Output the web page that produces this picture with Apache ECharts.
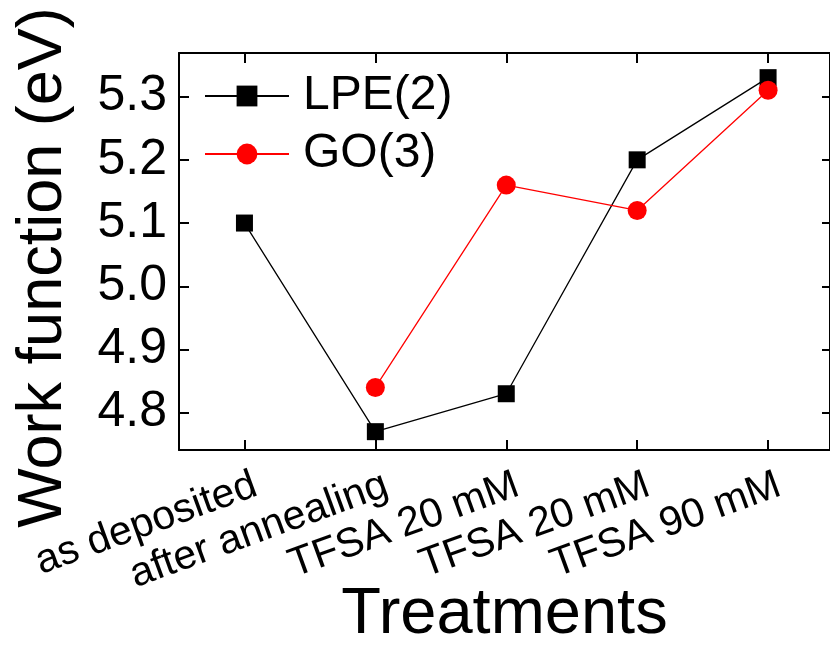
<!DOCTYPE html>
<html>
<head>
<meta charset="utf-8">
<script src="https://cdn.jsdelivr.net/npm/echarts@6/dist/echarts.min.js"></script>
<style>html,body{margin:0;padding:0;background:#fff}#c{width:830px;height:646px}</style>
</head>
<body>
<div id="c"></div>
<script>
const categories = ['as deposited', 'after annealing', 'TFSA 20 mM', 'TFSA 20 mM', 'TFSA 90 mM'];
const lpeValues = [5.10, 4.77, 4.83, 5.20, 5.33];
const goValues = [null, 4.84, 5.16, 5.12, 5.31];
const yTickValues = [4.8, 4.9, 5.0, 5.1, 5.2, 5.3];
const seriesNames = ['LPE(2)', 'GO(3)'];

const catPositions = categories.map((c, i) => i);
const FONT = 'Liberation Sans, Arial, sans-serif';

const chart = echarts.init(document.getElementById('c'), null, {renderer: 'canvas'});
const axisLine = {onZero: false, lineStyle: {color: '#000', width: 2}};
chart.setOption({
  animation: false,
  backgroundColor: '#fff',
  grid: {left: 179, top: 53, right: 0, bottom: 196, containLabel: false, outerBoundsMode: 'none'},
  legend: {
    left: 199, top: 67, orient: 'vertical',
    itemWidth: 84, itemHeight: 26, itemGap: 10,
    textStyle: {fontFamily: FONT, fontSize: 48, color: '#000', lineHeight: 48, padding: [0, 0, 0, 9]},
    data: seriesNames
  },
  xAxis: [{
    type: 'value', min: -0.5, max: 4.473, position: 'bottom',
    axisLine: axisLine,
    splitLine: {show: false},
    axisTick: {inside: true, length: 10, lineStyle: {color: '#000', width: 2}, customValues: catPositions},
    axisLabel: {
      customValues: catPositions.map(p => p + 0.085),
      formatter: v => categories[Math.round(v)],
      rotate: 20, margin: 34, fontFamily: FONT, fontSize: 41, color: '#000'
    },
    name: 'Treatments', nameLocation: 'middle', nameGap: 133, nameMoveOverlap: false,
    nameTextStyle: {fontFamily: FONT, fontSize: 65, color: '#000'}
  }, {
    type: 'value', min: -0.5, max: 4.473, position: 'top',
    axisLine: axisLine,
    splitLine: {show: false},
    axisTick: {inside: true, length: 10, lineStyle: {color: '#000', width: 2}, customValues: catPositions},
    axisLabel: {show: false}
  }],
  yAxis: [{
    type: 'value', min: 4.741, max: 5.369, position: 'left',
    axisLine: axisLine,
    splitLine: {show: false},
    axisTick: {inside: true, length: 10, lineStyle: {color: '#000', width: 2}, customValues: yTickValues},
    axisLabel: {customValues: yTickValues, formatter: v => v.toFixed(1), margin: 12, fontFamily: FONT, fontSize: 50, color: '#000'},
    name: 'Work function (eV)', nameLocation: 'middle', nameGap: 104, nameMoveOverlap: false,
    nameTextStyle: {fontFamily: FONT, fontSize: 63, color: '#000', padding: [0, 32, 0, 0]}
  }, {
    type: 'value', min: 4.741, max: 5.369, position: 'right',
    axisLine: axisLine,
    splitLine: {show: false},
    axisTick: {inside: true, length: 8, lineStyle: {color: '#000', width: 2}, customValues: yTickValues},
    axisLabel: {show: false}
  }],
  series: [{
    name: seriesNames[0], type: 'line',
    data: lpeValues.map((v, i) => [i, v]),
    symbol: 'rect', symbolSize: 17,
    lineStyle: {color: '#000', width: 1.3},
    itemStyle: {color: '#000'}
  }, {
    name: seriesNames[1], type: 'line',
    data: goValues.map((v, i) => [i, v]),
    symbol: 'circle', symbolSize: 19,
    lineStyle: {color: '#ff0000', width: 1.3},
    itemStyle: {color: '#ff0000'}
  }]
});
</script>
</body>
</html>
